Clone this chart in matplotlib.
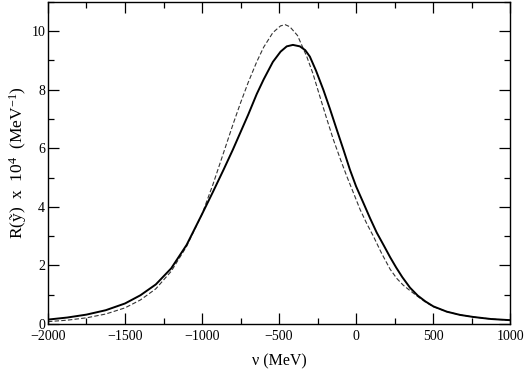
import matplotlib
matplotlib.use("Agg")
import matplotlib.pyplot as plt
from matplotlib.ticker import MultipleLocator

plt.rcParams['font.family'] = ['Liberation Serif', 'DejaVu Serif']
plt.rcParams['mathtext.fontset'] = 'custom'
plt.rcParams['mathtext.rm'] = 'Liberation Serif'
plt.rcParams['mathtext.it'] = 'Liberation Serif:italic'

# values
nu_solid = [-2000, -1875, -1750, -1625, -1500, -1400, -1300, -1200, -1100, -1000,
            -930, -860, -800, -750, -700, -645, -600, -540, -490, -450,
            -410, -365, -330, -300, -260, -212, -170, -125, -80, -40,
            0, 47, 90, 134, 180, 221, 260, 300, 350, 400,
            450, 502, 589, 675, 760, 875, 1000]
r_solid = [0.15, 0.22, 0.32, 0.47, 0.70, 0.98, 1.35, 1.90, 2.70, 3.75,
           4.50, 5.27, 5.95, 6.55, 7.15, 7.85, 8.35, 8.95, 9.30, 9.48,
           9.53, 9.48, 9.35, 9.13, 8.65, 7.99, 7.35, 6.63, 5.92, 5.27,
           4.70, 4.14, 3.62, 3.12, 2.68, 2.28, 1.93, 1.60, 1.24, 0.97,
           0.77, 0.60, 0.42, 0.31, 0.24, 0.17, 0.13]

nu_dash = [-2000, -1875, -1750, -1625, -1500, -1400, -1300, -1200, -1100, -1000,
           -930, -860, -800, -750, -700, -645, -600, -540, -490, -460,
           -430, -380, -320, -280, -234, -190, -147, -100, -60, -15,
           26, 70, 112, 165, 221, 265, 307, 350, 400, 450,
           502, 589, 675, 760, 875, 1000]
r_dash = [0.08, 0.13, 0.21, 0.34, 0.55, 0.82, 1.20, 1.80, 2.65, 3.75,
          4.75, 5.85, 6.80, 7.55, 8.25, 8.95, 9.45, 9.95, 10.18, 10.22,
          10.15, 9.85, 9.13, 8.55, 7.75, 7.00, 6.29, 5.60, 5.04, 4.45,
          3.91, 3.42, 3.00, 2.42, 1.87, 1.55, 1.32, 1.14, 0.94, 0.75,
          0.59, 0.42, 0.31, 0.24, 0.17, 0.13]

fig = plt.figure(figsize=(5.27, 3.69), dpi=100)
ax = fig.add_axes([0.091, 0.122, 0.877, 0.873])

ax.plot(nu_dash, r_dash, color='#333333', lw=0.8, dashes=(4, 2))
ax.plot(nu_solid, r_solid, color='black', lw=1.4)

ax.set_xlim(-2000, 1000)
ax.set_ylim(0, 11)
ax.xaxis.set_major_locator(MultipleLocator(500))
ax.xaxis.set_minor_locator(MultipleLocator(250))
ax.yaxis.set_major_locator(MultipleLocator(2))
ax.yaxis.set_minor_locator(MultipleLocator(1))
ax.tick_params(which='both', direction='in', top=True, right=True, labelsize=10)
ax.tick_params(which='major', length=8, width=0.9)
ax.tick_params(which='minor', length=4, width=0.9)
ax.tick_params(axis='x', pad=4)
ax.tick_params(axis='y', pad=2)
for s in ax.spines.values():
    s.set_linewidth(1.0)

ax.set_xlabel('ν (MeV)', fontsize=11.5, labelpad=8)
ax.set_ylabel('R(ỹ)  x  10$^{4}$  (MeV$^{-1}$)', fontsize=12.5, labelpad=2)

fig.savefig('out.png', dpi=100)
